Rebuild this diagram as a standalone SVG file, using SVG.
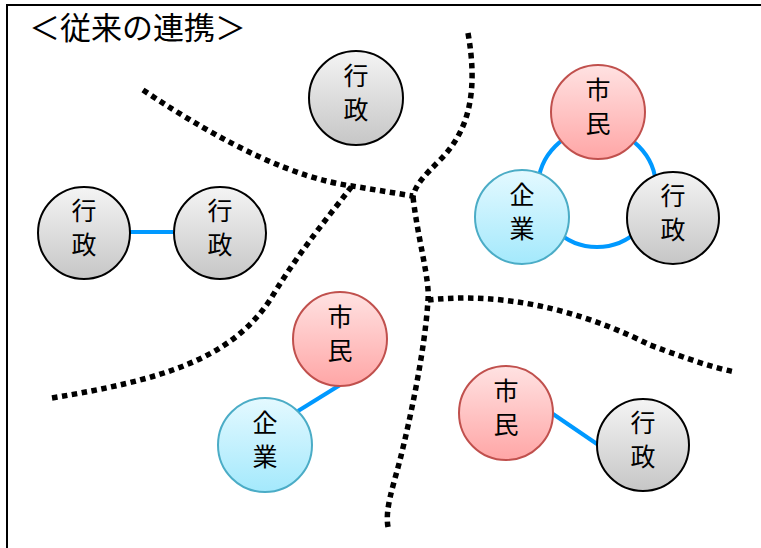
<svg xmlns="http://www.w3.org/2000/svg" width="761" height="548" viewBox="0 0 761 548">
<defs>
<linearGradient id="gGray" x1="0" y1="0" x2="0" y2="1"><stop offset="0" stop-color="#f4f4f4"/><stop offset="1" stop-color="#c6c6c6"/></linearGradient>
<linearGradient id="gRed" x1="0" y1="0" x2="0" y2="1"><stop offset="0" stop-color="#ffe2e2"/><stop offset="1" stop-color="#ffa6a6"/></linearGradient>
<linearGradient id="gBlue" x1="0" y1="0" x2="0" y2="1"><stop offset="0" stop-color="#e4f9ff"/><stop offset="1" stop-color="#a4e9fc"/></linearGradient>
<style>
.gray{fill:url(#gGray);stroke:#000;stroke-width:2}
.red{fill:url(#gRed);stroke:#c0504d;stroke-width:2}
.blue{fill:url(#gBlue);stroke:#4bacc6;stroke-width:2}
.t{font-family:"Noto Sans CJK JP","Noto Sans CJK SC",sans-serif;font-size:25px;text-anchor:middle;fill:#000}
.dot{fill:none;stroke:#000;stroke-width:5.5;stroke-dasharray:5.5 4.5}
.link{fill:none;stroke:#0099ff;stroke-width:4}
</style>
</defs>
<rect x="0" y="0" width="761" height="548" fill="#fff"/>
<path d="M7,548 V5 H761" fill="none" stroke="#000" stroke-width="2"/>
<text x="29" y="39" style="font-family:'Noto Sans CJK JP','Noto Sans CJK SC',sans-serif;font-size:31px">＜従来の連携＞</text>
<g id="dividers">
<path class="dot" d="M143,90 Q270,175 352,186 L413,196"/>
<path class="dot" d="M468,33 C478,90 470,130 440,160 C425,175 415,185 413,197"/>
<path class="dot" d="M52,398 C160,380 230,360 270,300 C300,250 330,215 352,186"/>
<path class="dot" d="M413,197 C418,240 430,280 428,300 C425,350 410,420 400,460 C392,490 385,510 388,527"/>
<path class="dot" d="M428,300 C520,290 600,320 650,345 C690,360 715,368 735,372"/>
</g>
<g id="connectors">
<line class="link" x1="130" y1="232" x2="173" y2="232"/>
<circle class="link" cx="597" cy="188" r="59"/>
<line class="link" x1="340" y1="385" x2="298" y2="411"/>
<line class="link" x1="553" y1="414" x2="597" y2="444"/>
</g>
<g id="n1"><circle class="gray" cx="356" cy="98" r="47"/><text class="t" x="356" y="85">行</text><text class="t" x="356" y="119">政</text></g>
<g id="n2"><circle class="gray" cx="84" cy="233" r="46"/><text class="t" x="84" y="220">行</text><text class="t" x="84" y="254">政</text></g>
<g id="n3"><circle class="gray" cx="220" cy="233" r="46"/><text class="t" x="220" y="220">行</text><text class="t" x="220" y="254">政</text></g>
<g id="n4"><circle class="red" cx="598" cy="112" r="47"/><text class="t" x="598" y="99">市</text><text class="t" x="598" y="133">民</text></g>
<g id="n5"><circle class="blue" cx="522" cy="217" r="47"/><text class="t" x="522" y="204">企</text><text class="t" x="522" y="238">業</text></g>
<g id="n6"><circle class="gray" cx="673" cy="218" r="46"/><text class="t" x="673" y="205">行</text><text class="t" x="673" y="239">政</text></g>
<g id="n7"><circle class="red" cx="340" cy="339" r="47"/><text class="t" x="340" y="326">市</text><text class="t" x="340" y="360">民</text></g>
<g id="n8"><circle class="blue" cx="265" cy="445" r="47"/><text class="t" x="265" y="432">企</text><text class="t" x="265" y="466">業</text></g>
<g id="n9"><circle class="red" cx="506" cy="413" r="47"/><text class="t" x="506" y="400">市</text><text class="t" x="506" y="434">民</text></g>
<g id="n10"><circle class="gray" cx="643" cy="445" r="46"/><text class="t" x="643" y="432">行</text><text class="t" x="643" y="466">政</text></g>
</svg>
